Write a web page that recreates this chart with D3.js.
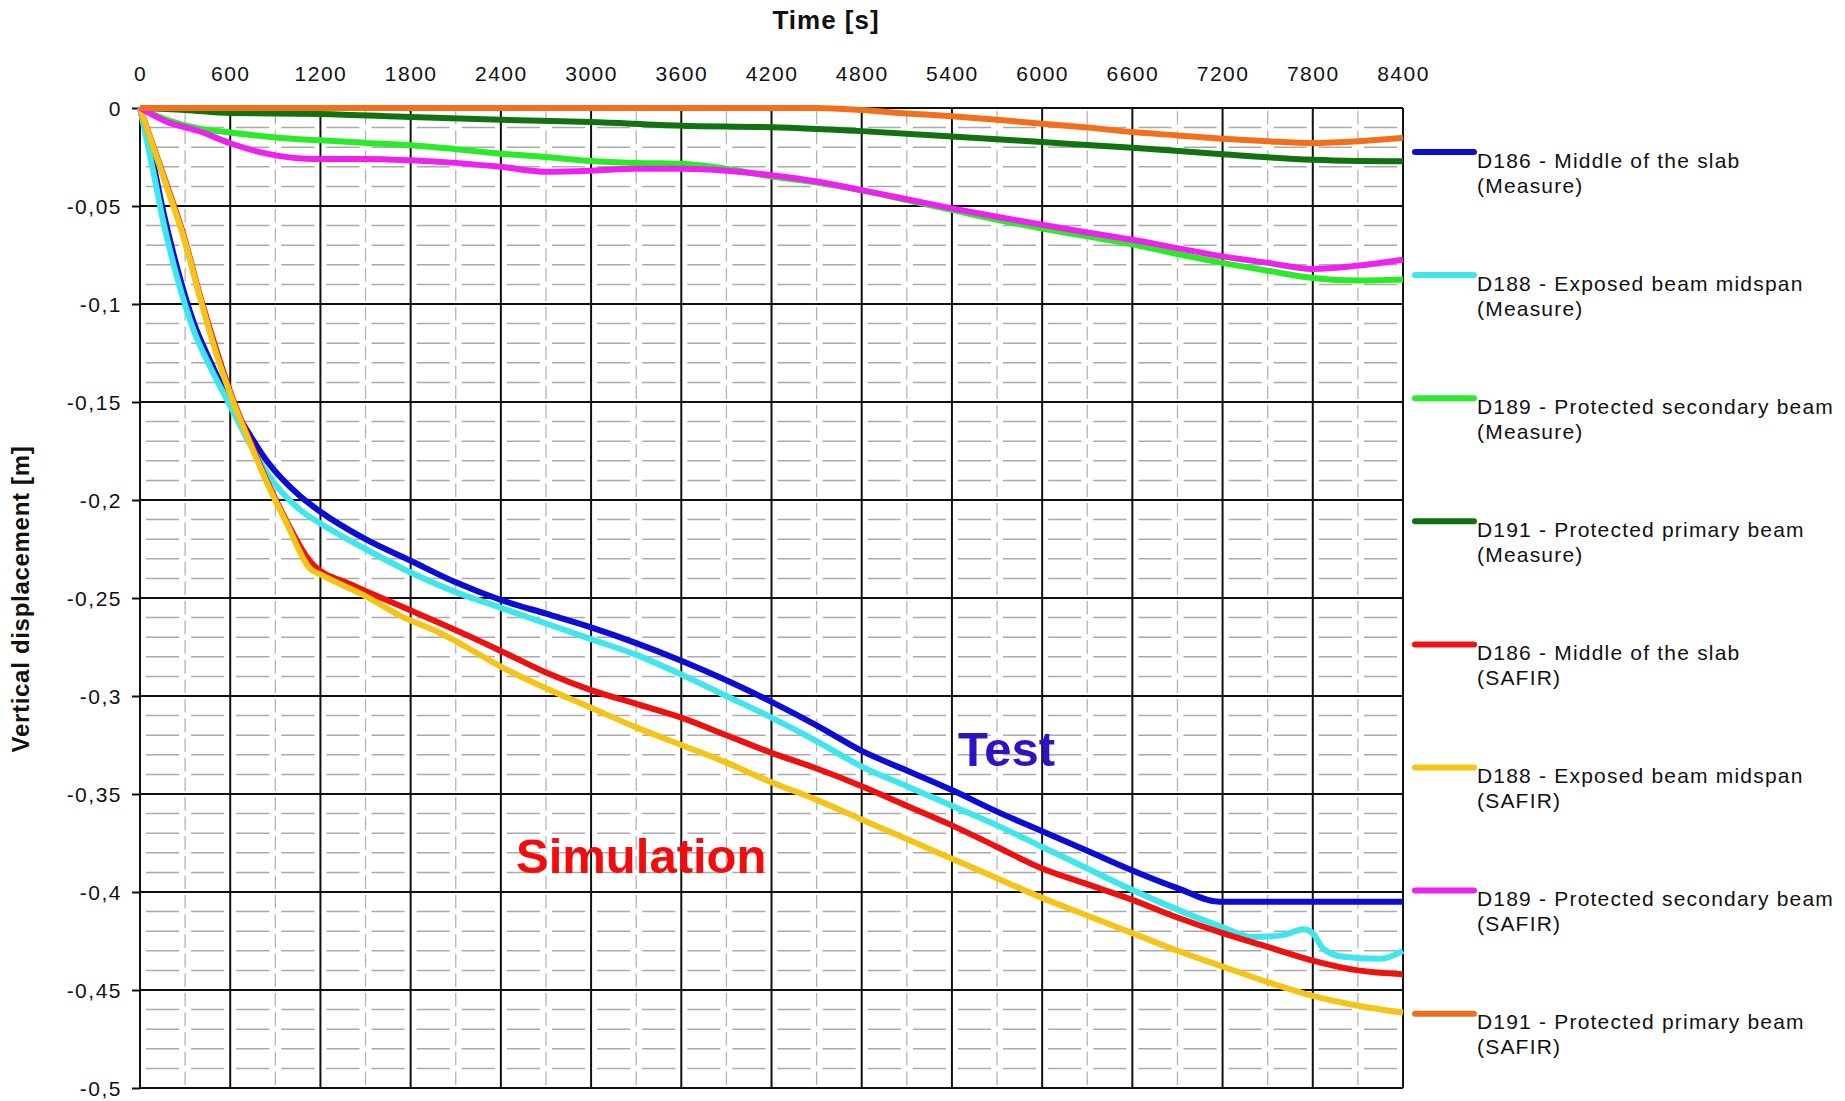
<!DOCTYPE html>
<head>
  <meta charset='utf-8'>
  <title>Vertical displacement</title>
  <script src="https://cdnjs.cloudflare.com/ajax/libs/d3/7.8.5/d3.min.js"></script>
  <style>
    body { margin: 0; background: #fff; }
    svg text { font-family: "Liberation Sans", Arial, sans-serif; fill: #111; }
    .tick text { font-size: 21px; letter-spacing: 1.5px; }
    .legend text { font-size: 21px; letter-spacing: 1.2px; }
    .title { font-weight: bold; font-size: 24px; }
  </style>
</head>
<body>
<div id="chart"></div>
<script>
// tick labels
var xTicks = [0, 600, 1200, 1800, 2400, 3000, 3600, 4200, 4800, 5400, 6000, 6600, 7200, 7800, 8400];
var yTicks = [0, -0.05, -0.1, -0.15, -0.2, -0.25, -0.3, -0.35, -0.4, -0.45, -0.5];

// series names
var names = [
  ["D186 - Middle of the slab", "(Measure)"],
  ["D188 - Exposed beam midspan", "(Measure)"],
  ["D189 - Protected secondary beam", "(Measure)"],
  ["D191 - Protected primary beam", "(Measure)"],
  ["D186 - Middle of the slab", "(SAFIR)"],
  ["D188 - Exposed beam midspan", "(SAFIR)"],
  ["D189 - Protected secondary beam", "(SAFIR)"],
  ["D191 - Protected primary beam", "(SAFIR)"]
];
var colors = ["#0c0cd2", "#3fe6ec", "#2aea2a", "#107210", "#ec1212", "#f4c416", "#ee22ee", "#f2701c"];

// [time s, displacement m]
var d186Measure = [[0,0],[90,-0.029],[155,-0.053],[245,-0.081],[355,-0.109],[466,-0.129],[600,-0.150],[700,-0.163],
  [843,-0.180],[1064,-0.198],[1200,-0.206],[1500,-0.220],[1800,-0.231],[2100,-0.242],[2400,-0.251],[2700,-0.258],
  [3000,-0.265],[3300,-0.273],[3600,-0.282],[3900,-0.292],[4200,-0.303],[4500,-0.315],[4800,-0.328],[5100,-0.338],
  [5400,-0.348],[5700,-0.359],[6000,-0.369],[6300,-0.379],[6600,-0.389],[6900,-0.398],[7180,-0.405],[8400,-0.405]];
var d188Measure = [[0,0],[90,-0.033],[155,-0.058],[245,-0.086],[355,-0.113],[466,-0.132],[600,-0.152],[700,-0.167],
  [843,-0.186],[1064,-0.205],[1200,-0.212],[1500,-0.225],[1800,-0.237],[2100,-0.247],[2400,-0.255],[2700,-0.263],
  [3000,-0.271],[3300,-0.279],[3600,-0.289],[3900,-0.300],[4200,-0.311],[4500,-0.323],[4800,-0.336],[5100,-0.346],
  [5400,-0.356],[5700,-0.366],[6000,-0.377],[6300,-0.388],[6600,-0.399],[6900,-0.409],[7200,-0.418],[7400,-0.423],
  [7600,-0.422],[7740,-0.419],[7800,-0.421],[7870,-0.429],[8000,-0.433],[8250,-0.434],[8400,-0.430]];
var d189Measure = [[0,0],[177,-0.006],[400,-0.0105],[600,-0.0125],[900,-0.015],[1200,-0.0165],[1500,-0.0178],
  [1800,-0.019],[2100,-0.021],[2400,-0.0233],[2700,-0.025],[3000,-0.027],[3300,-0.028],[3600,-0.0285],[3900,-0.031],
  [4200,-0.035],[4500,-0.038],[4800,-0.042],[5100,-0.047],[5400,-0.052],[5700,-0.057],[6000,-0.0615],[6300,-0.0655],
  [6600,-0.0695],[6900,-0.0745],[7200,-0.079],[7500,-0.083],[7800,-0.0867],[8100,-0.088],[8400,-0.0875]];
var d191Measure = [[0,0],[300,-0.001],[600,-0.0026],[1200,-0.003],[1800,-0.0046],[2400,-0.006],[3000,-0.0072],
  [3600,-0.009],[4200,-0.0098],[4800,-0.0118],[5400,-0.0145],[6000,-0.0174],[6600,-0.0203],[7200,-0.0236],
  [7800,-0.0264],[8100,-0.027],[8400,-0.0272]];
var d186Safir = [[0,0],[177,-0.039],[290,-0.065],[400,-0.096],[510,-0.124],[620,-0.149],[732,-0.170],[843,-0.190],
  [976,-0.211],[1100,-0.228],[1150,-0.233],[1400,-0.243],[1729,-0.254],[2000,-0.263],[2261,-0.272],[2400,-0.277],
  [2700,-0.288],[3000,-0.297],[3300,-0.304],[3600,-0.311],[3900,-0.320],[4200,-0.329],[4500,-0.337],[4800,-0.346],
  [5100,-0.356],[5400,-0.366],[5700,-0.377],[6000,-0.388],[6300,-0.396],[6600,-0.404],[6900,-0.413],[7200,-0.421],
  [7500,-0.428],[7800,-0.435],[8100,-0.440],[8400,-0.442]];
var d188Safir = [[0,0],[177,-0.040],[290,-0.066],[400,-0.097],[510,-0.126],[620,-0.150],[732,-0.171],[843,-0.191],
  [976,-0.212],[1131,-0.235],[1200,-0.238],[1500,-0.249],[1729,-0.259],[2000,-0.268],[2261,-0.279],[2400,-0.285],
  [2700,-0.296],[3000,-0.306],[3300,-0.316],[3600,-0.325],[3900,-0.334],[4200,-0.344],[4500,-0.353],[4800,-0.363],
  [5100,-0.373],[5400,-0.383],[5700,-0.393],[6000,-0.403],[6300,-0.412],[6600,-0.421],[6900,-0.430],[7200,-0.438],
  [7500,-0.446],[7800,-0.453],[8100,-0.458],[8400,-0.4615]];
var d189Safir = [[0,0],[177,-0.007],[400,-0.012],[600,-0.018],[843,-0.0233],[1108,-0.0259],[1200,-0.026],
  [1500,-0.026],[1800,-0.0267],[2100,-0.028],[2400,-0.030],[2700,-0.0325],[3000,-0.032],[3300,-0.031],[3600,-0.031],
  [3900,-0.032],[4200,-0.0343],[4500,-0.0375],[4800,-0.0419],[5100,-0.0465],[5400,-0.0512],[5700,-0.0555],
  [6000,-0.0596],[6300,-0.0635],[6600,-0.0672],[6900,-0.0715],[7200,-0.0757],[7500,-0.079],[7800,-0.0821],
  [8100,-0.0804],[8400,-0.0774]];
var d191Safir = [[0,0],[4500,0],[4800,-0.001],[5100,-0.0028],[5400,-0.0042],[5700,-0.006],[6000,-0.008],
  [6300,-0.010],[6600,-0.0123],[6900,-0.014],[7200,-0.0157],[7500,-0.017],[7800,-0.0179],[8100,-0.017],[8400,-0.0152]];

var series = [d186Measure, d188Measure, d189Measure, d191Measure, d186Safir, d188Safir, d189Safir, d191Safir];

var width = 1845, height = 1101;
var plotLeft = 140, plotRight = 1403, plotTop = 108, plotBottom = 1088;

var x = d3.scaleLinear().domain([0, 8400]).range([plotLeft, plotRight]);
var y = d3.scaleLinear().domain([0, -0.5]).range([plotTop, plotBottom]);

var svg = d3.select("#chart").append("svg")
    .attr("width", width)
    .attr("height", height);

var fmt = function(d) { return String(d).replace(".", ","); };

// minor grid
var xMinor = d3.range(300, 8400, 600);
var yMinor = d3.range(1, 50).filter(function(i) { return i % 5 != 0; }).map(function(i) { return -i / 100; });
var stepX = x(300) - x(0), stepY = y(-0.01) - y(0);

svg.append("g").selectAll("line")
    .data(yMinor)
  .enter().append("line")
    .attr("x1", plotLeft).attr("x2", plotRight)
    .attr("y1", function(d) { return y(d); })
    .attr("y2", function(d) { return y(d); })
    .style("stroke", "#aaa")
    .style("stroke-width", 1.5)
    .style("stroke-dasharray", (stepX - 12) + " 12")
    .style("stroke-dashoffset", stepX - 6);

svg.append("g").selectAll("line")
    .data(xMinor)
  .enter().append("line")
    .attr("y1", plotTop).attr("y2", plotBottom)
    .attr("x1", function(d) { return x(d); })
    .attr("x2", function(d) { return x(d); })
    .style("stroke", "#b4b4b4")
    .style("stroke-width", 1.3)
    .style("stroke-dasharray", (stepY - 6) + " 6")
    .style("stroke-dashoffset", stepY - 3);

// major grid
svg.append("g").selectAll("line")
    .data(xTicks)
  .enter().append("line")
    .attr("y1", plotTop).attr("y2", plotBottom)
    .attr("x1", function(d) { return x(d); })
    .attr("x2", function(d) { return x(d); })
    .style("stroke", "#111")
    .style("stroke-width", 2);

svg.append("g").selectAll("line")
    .data(yTicks)
  .enter().append("line")
    .attr("x1", plotLeft).attr("x2", plotRight)
    .attr("y1", function(d) { return y(d); })
    .attr("y2", function(d) { return y(d); })
    .style("stroke", "#111")
    .style("stroke-width", 2);

// axes
var xAxis = svg.append("g")
    .attr("transform", "translate(0,81)")
    .call(d3.axisTop(x).tickValues(xTicks).tickFormat(fmt).tickSize(0).tickPadding(0));
xAxis.select(".domain").remove();
xAxis.selectAll("text").attr("dy", 0).attr("y", 0);

var yAxis = svg.append("g")
    .attr("transform", "translate(" + plotLeft + ",0)")
    .call(d3.axisLeft(y).tickValues(yTicks).tickFormat(fmt).tickSize(8).tickPadding(10));
yAxis.select(".domain").remove();
yAxis.selectAll("line").style("stroke", "#111").style("stroke-width", 2);
yAxis.selectAll("text").attr("dy", "0.36em");

svg.selectAll(".tick text").style("font-family", "'Liberation Sans', Arial, sans-serif").style("fill", "#111");

// titles
svg.append("text")
    .attr("class", "title")
    .attr("x", 826)
    .attr("y", 29)
    .attr("text-anchor", "middle")
    .style("font-size", "26px")
    .style("letter-spacing", "1px")
    .text("Time [s]");

svg.append("text")
    .attr("class", "title")
    .attr("transform", "translate(29,599) rotate(-90)")
    .attr("text-anchor", "middle")
    .style("letter-spacing", "0.7px")
    .text("Vertical displacement [m]");

// series lines
var line = d3.line()
    .x(function(d) { return x(d[0]); })
    .y(function(d) { return y(d[1]); })
    .curve(d3.curveMonotoneX);

svg.append("g").selectAll("path")
    .data(series)
  .enter().append("path")
    .attr("d", line)
    .style("fill", "none")
    .style("stroke", function(d, i) { return colors[i]; })
    .style("stroke-width", 6)
    .style("stroke-linejoin", "round");

// annotations
svg.append("text")
    .attr("x", 958).attr("y", 766)
    .style("font-size", "49px").style("font-weight", "bold").style("fill", "#2c14c2")
    .text("Test");

svg.append("text")
    .attr("x", 516).attr("y", 873)
    .style("font-size", "49px").style("font-weight", "bold").style("fill", "#f40c0c")
    .text("Simulation");

// legend
var legend = svg.append("g").attr("class", "legend")
  .selectAll("g")
    .data(names)
  .enter().append("g")
    .attr("transform", function(d, i) { return "translate(1415," + (152 + i * 123.1) + ")"; });

legend.append("line")
    .attr("x1", 0).attr("x2", 59)
    .style("stroke", function(d, i) { return colors[i]; })
    .style("stroke-width", 6)
    .style("stroke-linecap", "round");

legend.append("text")
    .attr("x", 62).attr("y", 15.5)
    .text(function(d) { return d[0]; });

legend.append("text")
    .attr("x", 62).attr("y", 40.5)
    .text(function(d) { return d[1]; });
</script>
</body>
